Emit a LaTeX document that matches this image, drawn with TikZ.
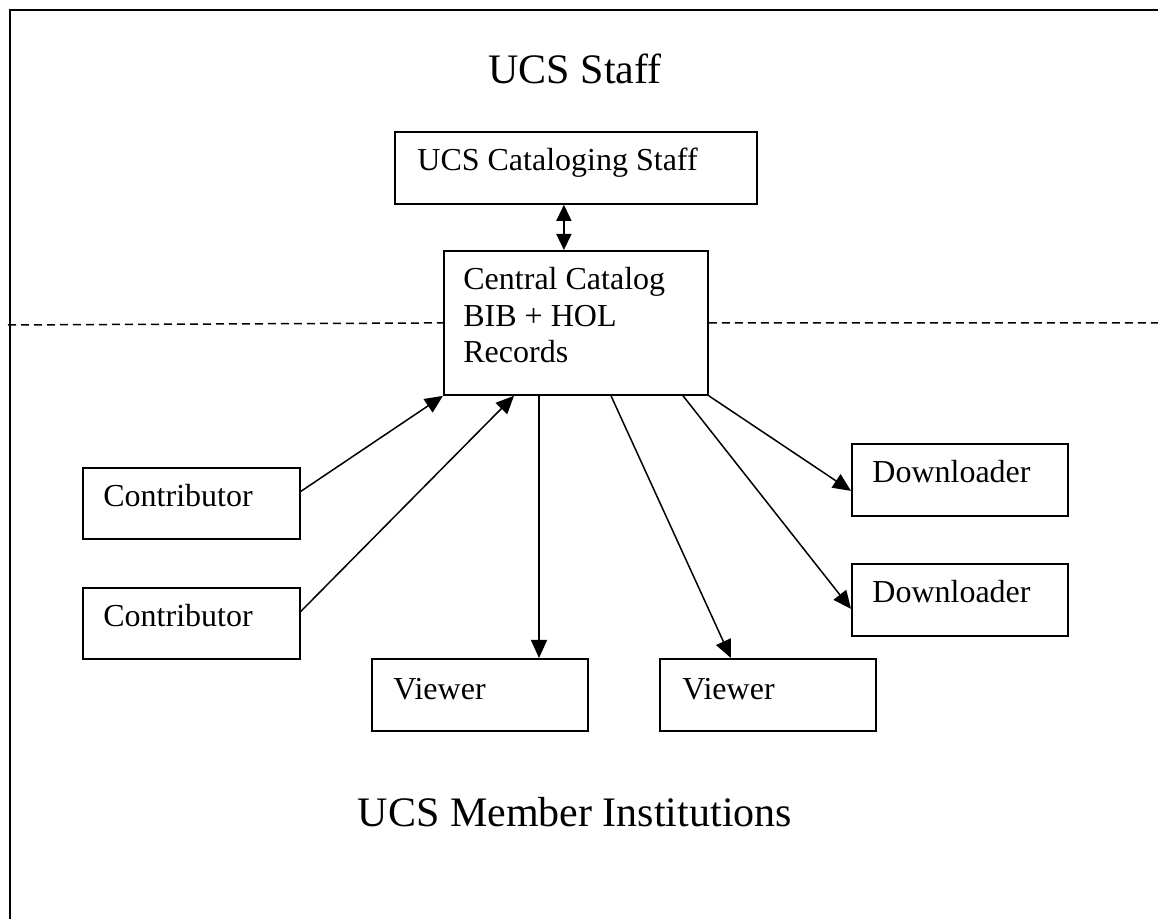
\documentclass[tikz,border=0pt]{standalone}
\usepackage{fontspec}
\setmainfont{Liberation Serif}
\usetikzlibrary{arrows.meta}

\tikzset{
    box/.style 2 args={draw, line width=0.9pt, anchor=north west, inner sep=0pt,
        minimum width=#1*0.5pt, minimum height=#2*0.5pt},
    boxtext/.style={anchor=base west, inner sep=0pt, align=left,
        font=\fontsize{16pt}{18.3pt}\selectfont},
    bigtext/.style={anchor=base, inner sep=0pt, font=\fontsize{21pt}{25pt}\selectfont},
    link/.style={line width=0.75pt, -{Triangle[length=9pt,width=8pt]}},
    dlink/.style={line width=0.75pt, {Triangle[length=8pt,width=7.5pt]}-{Triangle[length=8pt,width=7.5pt]}},
    divider/.style={line width=0.75pt, dash pattern=on 4pt off 2.5pt},
}

\begin{document}
\begin{tikzpicture}[x=0.5pt, y=-0.5pt]
        \useasboundingbox (0,0) rectangle (1158,919);
        \draw[line width=1pt] (10,919) -- (10,10) -- (1158,10);

        \node[bigtext] (staff) at (575,84) {UCS Staff};
        \node[bigtext] (member) at (575,827) {UCS Member Institutions};

        \node[box={362}{72}] (cat) at (394,131) {};
        \node[boxtext] (cat-txt) at (417,171) {UCS Cataloging Staff};
        \node[box={264}{144}] (cen) at (443,250) {};
        \node[boxtext] (cen-txt) at (463,363) {Central Catalog\\BIB + HOL\\Records};

        \node[box={217}{71}] (con1) at (82,467) {};
        \node[boxtext] (con1-txt) at (103,507) {Contributor};
        \node[box={217}{71}] (con2) at (82,587) {};
        \node[boxtext] (con2-txt) at (103,627) {Contributor};

        \node[box={216}{72}] (view1) at (371,658) {};
        \node[boxtext] (view1-txt) at (393,700) {Viewer};
        \node[box={216}{72}] (view2) at (659,658) {};
        \node[boxtext] (view2-txt) at (682,700) {Viewer};

        \node[box={216}{72}] (down1) at (851,443) {};
        \node[boxtext] (down1-txt) at (872,483) {Downloader};
        \node[box={216}{72}] (down2) at (851,563) {};
        \node[boxtext] (down2-txt) at (872,603) {Downloader};

        \coordinate (dl) at (8,325);
        \coordinate (dr) at (1158,323);
        \draw[divider] (dl) -- (cen.west);
        \draw[divider] (cen.east) -- (dr);

        \draw[dlink] ([shift={(-12,0)}]cat.south) -- ([shift={(-12,0)}]cen.north);
        \draw[link] ([shift={(0,-12)}]con1.east) -- (cen.south west);
        \draw[link] ([shift={(0,-12)}]con2.east) -- ([shift={(71,0)}]cen.south west);
        \draw[link] ([shift={(96,0)}]cen.south west) -- ([shift={(96,0)}]cen.south west |- view1.north);
        \draw[link] ([shift={(168,0)}]cen.south west) -- ([shift={(-37,0)}]view2.north);
        \draw[link] ([shift={(240,0)}]cen.south west) -- ([shift={(0,9)}]down2.west);
        \draw[link] (cen.south east) -- ([shift={(0,11)}]down1.west);
    \end{tikzpicture}
\end{document}
